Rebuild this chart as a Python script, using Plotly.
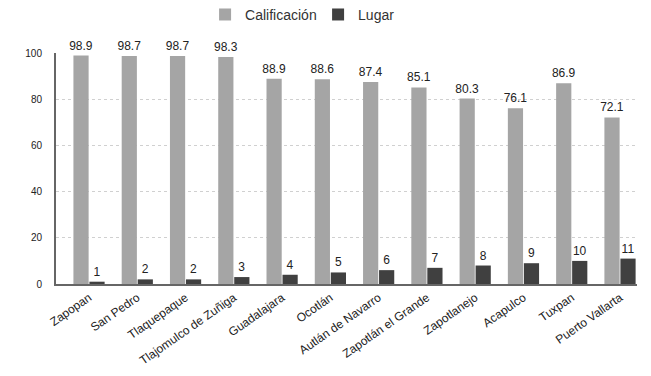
import plotly.graph_objects as go

categorias = ["Zapopan", "San Pedro", "Tlaquepaque", "Tlajomulco de Zuñiga", "Guadalajara",
              "Ocotlán", "Autlán de Navarro", "Zapotlán el Grande", "Zapotlanejo",
              "Acapulco", "Tuxpan", "Puerto Vallarta"]
calificacion = [98.9, 98.7, 98.7, 98.3, 88.9, 88.6, 87.4, 85.1, 80.3, 76.1, 86.9, 72.1]
lugar = [1, 2, 2, 3, 4, 5, 6, 7, 8, 9, 10, 11]
y_ticks = [0, 20, 40, 60, 80, 100]

font_family = "Liberation Sans, Arial, sans-serif"

fig = go.Figure()
fig.add_trace(go.Bar(
    x=categorias, y=calificacion, name="Calificación",
    marker=dict(color="#a5a5a5", line=dict(width=0)),
    text=[f"{v:.1f}" for v in calificacion], textposition="outside",
    textfont=dict(size=12, color="#222222"), cliponaxis=False, constraintext="none",
))
fig.add_trace(go.Bar(
    x=categorias, y=lugar, name="Lugar",
    marker=dict(color="#404040", line=dict(width=0)),
    text=[str(v) for v in lugar], textposition="outside",
    textfont=dict(size=12, color="#222222"), cliponaxis=False, constraintext="none",
))

fig.update_layout(
    width=651, height=376,
    margin=dict(l=48, r=22, t=45, b=100, autoexpand=False),
    paper_bgcolor="white", plot_bgcolor="white",
    font=dict(family=font_family, size=11, color="#222222"),
    barmode="group", bargap=0.337, bargroupgap=0.05,
    showlegend=True,
    legend=dict(orientation="h", x=0.2566, xanchor="left", y=1.165, yanchor="middle",
                font=dict(size=14, color="#333333"), itemwidth=30,
                traceorder="normal", entrywidth=68, entrywidthmode="pixels"),
    xaxis=dict(tickangle=-35, showline=True, linecolor="#666666", linewidth=2,
               range=[-0.684, 11.352],
               tickfont=dict(size=12, color="#222222"), ticks="", showgrid=False,
               automargin=False),
    yaxis=dict(range=[0, 100], tickvals=y_ticks, showline=True, linecolor="#666666",
               linewidth=2, showgrid=True, gridcolor="#d0d0d0", griddash="dot",
               gridwidth=1, tickfont=dict(size=10, color="#222222"), ticks="",
               zeroline=False, ticklabelstandoff=10, automargin=False),
)

fig.write_html("out.html")
